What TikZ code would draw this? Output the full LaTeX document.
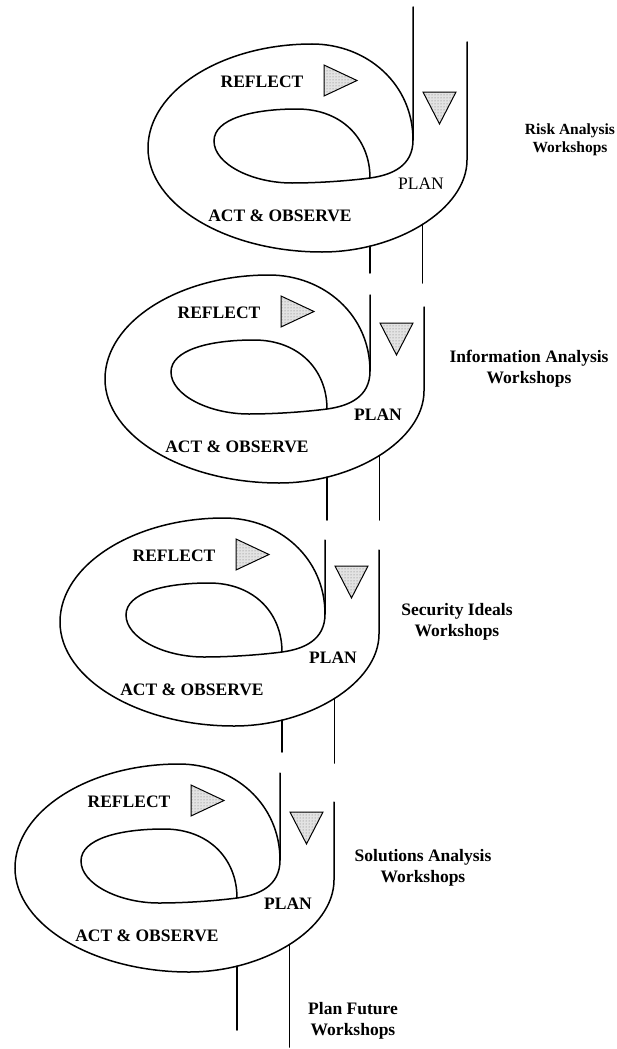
\documentclass[tikz,border=0pt]{standalone}
\usepackage{fontspec}
\setmainfont{Liberation Serif}
\usetikzlibrary{patterns}

\definecolor{stipple}{RGB}{110,110,110}

\begin{document}
\begin{tikzpicture}[x=1pt,y=-1pt,
            band/.style={line width=1.5pt, line cap=round, black},
            marker/.style={line width=1pt, black, preaction={fill=gray!22}, pattern=dots, pattern color=stipple},
            stage/.style={font=\fontsize{17.5}{21}\selectfont\bfseries},
            phase/.style={font=\fontsize{17.5}{21}\selectfont\bfseries, align=center}
         ]
      \useasboundingbox (0,0) rectangle (616,1049);

      % one loop per round: index / right edge / top / start of inner and outer line / end of the two legs / weight of PLAN
      \foreach \i/\rx/\ty/\topin/\topout/\legin/\legout/\plw in
         {1/467/44/-37/-2/229/239/\mdseries, 2/424/275/20/32/245/245/\bfseries,
          3/379/518/22/32/234/245/\bfseries, 4/334/764/9/38/266/283/\bfseries}{
      \begin{scope}[shift={(\rx,\ty)}]
         % outer edge of the band, legs hang from its lower right part
         \draw[band] (-54,96) .. controls (-54,40) and (-100,0) .. (-155,0)
            .. controls (-245,0) and (-319,47) .. (-319,104)
            .. controls (-319,161) and (-240,208) .. (-145,208)
            .. controls (-70,208) and (0,165) .. coordinate[pos=0.22] (legA\i) coordinate[pos=0.5] (legB\i) (0,116)
            -- (0,\topout);
         \draw[band] (legA\i) -- (legA\i |- 0,\legin);
         \draw[band] (legB\i) -- (legB\i |- 0,\legout);
         % inner edge, curling into the eye
         \draw[band] (-54,\topin) -- (-54,96)
            .. controls (-54,122) and (-75,131) .. (-97,134)
            .. controls (-120,137) and (-150,139) .. (-175,139)
            .. controls (-215,139) and (-253,120) .. (-253,97)
            .. controls (-253,75) and (-215,65) .. (-170,65)
            .. controls (-125,65) and (-97,95) .. (-97,134);
         % direction markers
         \draw[marker] (-143,21) -- (-143,52) -- (-110,36.5) -- cycle;
         \draw[marker] (-44,48) -- (-11,48) -- (-27.5,80) -- cycle;

         \node[stage] (reflect\i) at (-205,38) {REFLECT};
         \node[stage] (plan\i) at (-46,140) {\plw PLAN};
         \node[stage] (act\i) at (-187,172) {ACT \& OBSERVE};
      \end{scope}
      }

      \node[phase, font=\fontsize{15.5}{18}\selectfont\bfseries] (risk) at (570,140) {Risk Analysis\\Workshops};
      \node[phase] (info) at (529,369) {Information Analysis\\Workshops};
      \node[phase] (secu) at (457,622) {Security Ideals\\Workshops};
      \node[phase] (solu) at (423,868) {Solutions Analysis\\Workshops};
      \node[phase] (future) at (353,1021) {Plan Future\\Workshops};

   \end{tikzpicture}
\end{document}
